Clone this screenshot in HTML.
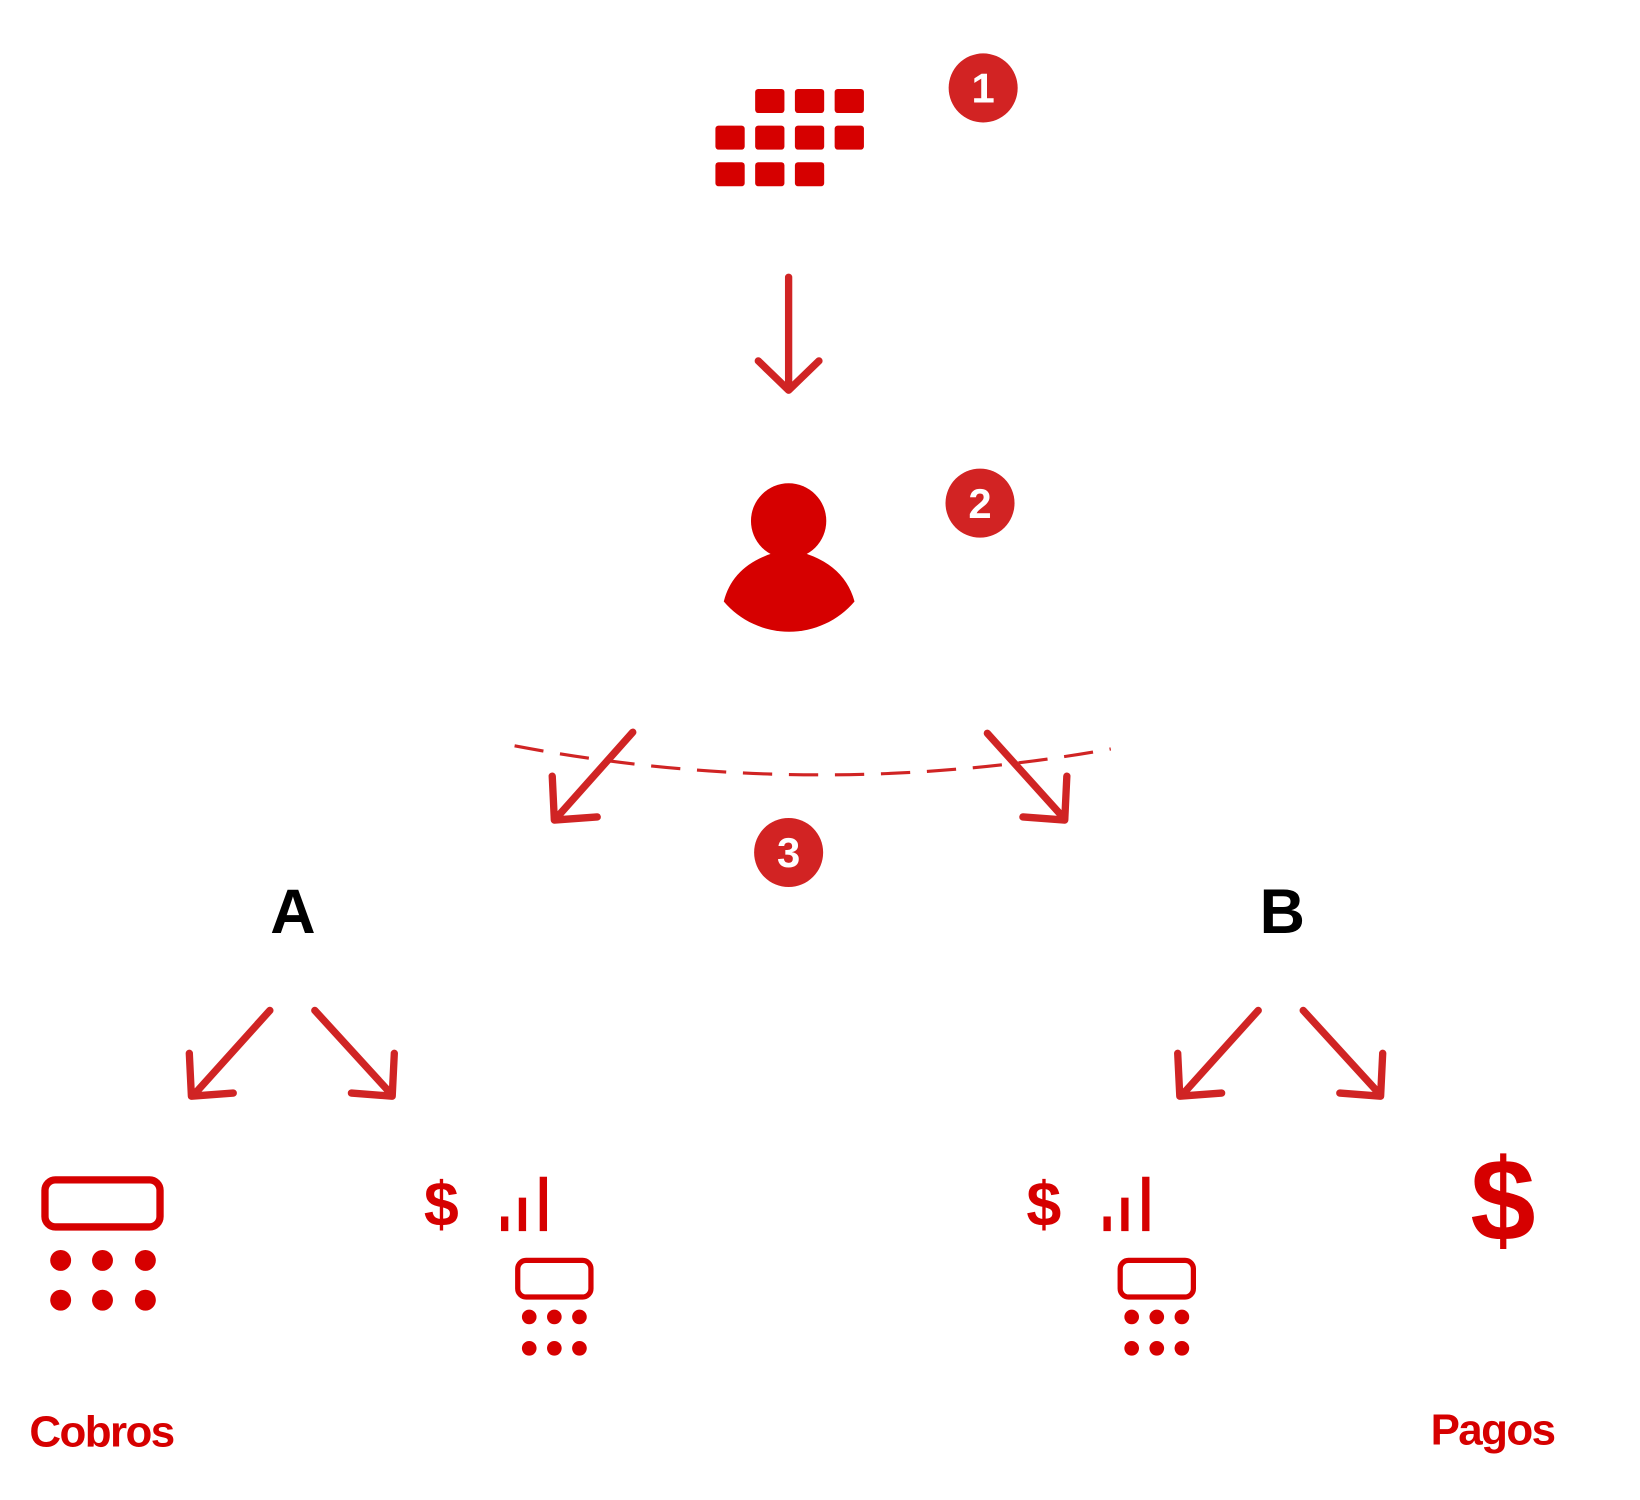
<!DOCTYPE html>
<html><head><meta charset="utf-8"><style>html,body{margin:0;padding:0;background:#fff;}svg{display:block}</style></head>
<body>
<svg width="1640" height="1500" viewBox="0 0 1568 1434" xmlns="http://www.w3.org/2000/svg" font-family="Liberation Sans, sans-serif">
<rect width="1568" height="1434" fill="#fff"/>
<g fill="#d60000">
<rect x="722" y="85" width="28" height="23" rx="3"/><rect x="760" y="85" width="28" height="23" rx="3"/><rect x="798" y="85" width="28" height="23" rx="3"/>
<rect x="684" y="120" width="28" height="23" rx="3"/><rect x="722" y="120" width="28" height="23" rx="3"/><rect x="760" y="120" width="28" height="23" rx="3"/><rect x="798" y="120" width="28" height="23" rx="3"/>
<rect x="684" y="155" width="28" height="23" rx="3"/><rect x="722" y="155" width="28" height="23" rx="3"/><rect x="760" y="155" width="28" height="23" rx="3"/>
</g>
<g fill="#d22323">
<circle cx="940" cy="84" r="33"/><circle cx="937" cy="481" r="33"/><circle cx="754" cy="815" r="33"/>
</g>
<g fill="#fff" font-weight="bold" font-size="40" text-anchor="middle">
<text x="940" y="98">1</text><text x="937" y="495">2</text><text x="754" y="829">3</text>
</g>
<g stroke="#d02424" stroke-width="7" stroke-linecap="round" stroke-linejoin="round" fill="none">
<path d="M754 265 L754 373 M725 345 L754 373 L783 345"/>
<path d="M605 700 L532 782 M528 742 L530 784 L571 781"/>
<path d="M944 701 L1017 782 M1020 742 L1018 784 L978 781"/>
<path d="M258 966 L185 1047 M181 1007 L183 1048 L223 1045"/>
<path d="M301 966 L375 1047 M377 1007 L375 1048 L336 1045"/>
<path d="M1203 966 L1130 1047 M1126 1007 L1128 1048 L1168 1045"/>
<path d="M1246 966 L1320 1047 M1322 1007 L1320 1048 L1281 1045"/>
</g>
<path d="M492 713 Q777 767 1062 716" stroke="#d02424" stroke-width="3" fill="none" stroke-dasharray="28 16"/>
<g fill="#d60000">
<circle cx="754" cy="498" r="36"/>
<path d="M692 575 Q702 535 754 525 Q806 535 817 575 A82 82 0 0 1 692 575 Z"/>
</g>
<g font-weight="bold" font-size="60" text-anchor="middle" fill="#000">
<text x="280" y="892">A</text><text x="1226" y="892">B</text>
</g>
<g fill="none" stroke="#d60000">
<rect x="43" y="1128" width="110" height="45" rx="10" stroke-width="7"/>
<rect x="495" y="1205" width="70" height="35" rx="8" stroke-width="5"/>
<rect x="1071" y="1205" width="70" height="35" rx="8" stroke-width="5"/>
</g>
<g fill="#d60000">
<circle cx="58" cy="1205" r="10"/><circle cx="98" cy="1205" r="10"/><circle cx="139" cy="1205" r="10"/>
<circle cx="58" cy="1243" r="10"/><circle cx="98" cy="1243" r="10"/><circle cx="139" cy="1243" r="10"/>
<circle cx="506" cy="1259" r="7"/><circle cx="530" cy="1259" r="7"/><circle cx="554" cy="1259" r="7"/>
<circle cx="506" cy="1289" r="7"/><circle cx="530" cy="1289" r="7"/><circle cx="554" cy="1289" r="7"/>
<circle cx="1082" cy="1259" r="7"/><circle cx="1106" cy="1259" r="7"/><circle cx="1130" cy="1259" r="7"/>
<circle cx="1082" cy="1289" r="7"/><circle cx="1106" cy="1289" r="7"/><circle cx="1130" cy="1289" r="7"/>
<rect x="479" y="1163" width="7" height="14"/><rect x="496" y="1145" width="7" height="32"/><rect x="516" y="1125" width="7" height="52"/>
<rect x="1055" y="1163" width="7" height="14"/><rect x="1072" y="1145" width="7" height="32"/><rect x="1092" y="1125" width="7" height="52"/>
</g>
<g fill="#d60000" font-weight="bold" text-anchor="middle">
<text x="422" y="1172" font-size="60">$</text>
<text x="998" y="1172" font-size="60">$</text>
<text x="1437" y="1186" font-size="112">$</text>
<text x="97" y="1383" font-size="42" letter-spacing="-1.5">Cobros</text>
<text x="1427" y="1381" font-size="42" letter-spacing="-1.5">Pagos</text>
</g>
</svg>
</body></html>
